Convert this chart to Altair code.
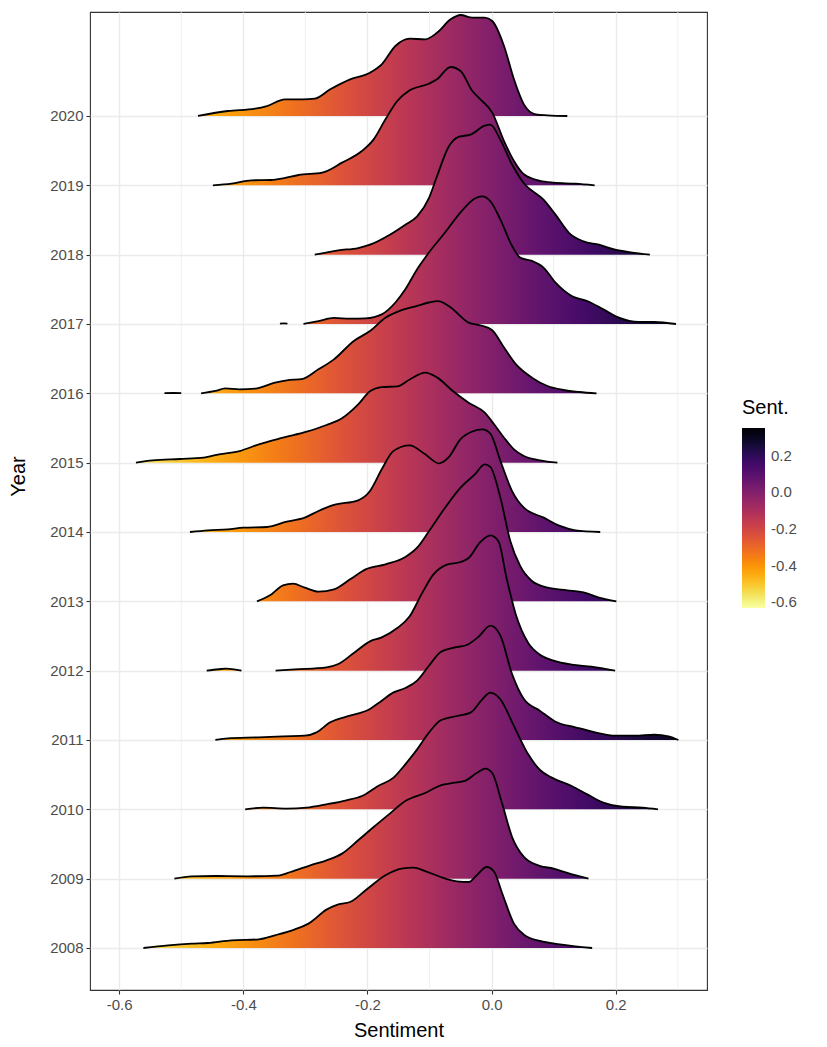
import altair as alt
import pandas as pd

# ---------------- data ----------------
years = [2008, 2009, 2010, 2011, 2012, 2013, 2014, 2015, 2016, 2017, 2018, 2019, 2020]

x2020 = [-0.473, -0.425, -0.381, -0.362, -0.333, -0.304, -0.285, -0.260, -0.228, -0.196, -0.177, -0.155, -0.132, -0.107, -0.088, -0.066, -0.050, -0.031, -0.011, 0.001, 0.020, 0.036, 0.052, 0.071, 0.090, 0.122]
d2020 = [0.0, 0.072, 0.106, 0.144, 0.240, 0.240, 0.250, 0.385, 0.529, 0.625, 0.745, 1.010, 1.115, 1.106, 1.200, 1.394, 1.457, 1.418, 1.418, 1.370, 1.010, 0.529, 0.168, 0.024, 0.010, 0.0]

x2019 = [-0.449, -0.419, -0.387, -0.355, -0.336, -0.311, -0.273, -0.241, -0.209, -0.190, -0.171, -0.152, -0.132, -0.101, -0.088, -0.066, -0.050, -0.031, -0.018, 0.001, 0.020, 0.036, 0.052, 0.078, 0.100, 0.135, 0.166]
d2019 = [0.0, 0.024, 0.072, 0.077, 0.100, 0.149, 0.183, 0.327, 0.495, 0.663, 0.952, 1.216, 1.370, 1.466, 1.529, 1.707, 1.649, 1.360, 1.240, 1.048, 0.639, 0.351, 0.159, 0.063, 0.038, 0.024, 0.0]

x2018 = [-0.285, -0.247, -0.215, -0.196, -0.164, -0.139, -0.120, -0.101, -0.088, -0.069, -0.053, -0.034, -0.011, -0.002, 0.014, 0.033, 0.052, 0.084, 0.103, 0.125, 0.148, 0.173, 0.199, 0.224, 0.255]
d2018 = [0.0, 0.063, 0.096, 0.144, 0.288, 0.433, 0.553, 0.817, 1.130, 1.560, 1.700, 1.730, 1.860, 1.875, 1.660, 1.300, 1.030, 0.790, 0.577, 0.312, 0.192, 0.144, 0.072, 0.034, 0.0]

x2017 = [-0.303, -0.279, -0.254, -0.228, -0.203, -0.177, -0.155, -0.139, -0.120, -0.101, -0.075, -0.050, -0.027, -0.015, -0.002, 0.014, 0.033, 0.046, 0.065, 0.084, 0.103, 0.129, 0.154, 0.180, 0.205, 0.237, 0.262, 0.297]
d2017 = [0.0, 0.043, 0.087, 0.077, 0.082, 0.139, 0.310, 0.500, 0.790, 1.030, 1.320, 1.610, 1.810, 1.840, 1.770, 1.510, 1.125, 0.957, 0.910, 0.810, 0.596, 0.404, 0.332, 0.212, 0.091, 0.029, 0.029, 0.0]
x2017_b = [-0.341, -0.335, -0.329]
d2017_b = [0.004, 0.008, 0.004]

x2016 = [-0.468, -0.445, -0.429, -0.406, -0.381, -0.349, -0.330, -0.304, -0.279, -0.254, -0.222, -0.196, -0.171, -0.145, -0.120, -0.101, -0.086, -0.069, -0.037, -0.018, 0.001, 0.020, 0.039, 0.065, 0.090, 0.116, 0.141, 0.169]
d2016 = [0.0, 0.034, 0.072, 0.058, 0.067, 0.154, 0.188, 0.210, 0.346, 0.490, 0.755, 0.899, 1.090, 1.200, 1.260, 1.310, 1.330, 1.260, 1.020, 0.980, 0.910, 0.660, 0.420, 0.226, 0.106, 0.048, 0.019, 0.0]
x2016_b = [-0.527, -0.513, -0.500]
d2016_b = [0.003, 0.005, 0.003]

x2015 = [-0.573, -0.546, -0.502, -0.464, -0.439, -0.406, -0.375, -0.336, -0.298, -0.266, -0.241, -0.215, -0.196, -0.177, -0.152, -0.132, -0.107, -0.088, -0.062, -0.037, -0.011, 0.004, 0.020, 0.036, 0.052, 0.078, 0.106]
d2015 = [0.0, 0.034, 0.053, 0.072, 0.120, 0.168, 0.264, 0.360, 0.447, 0.543, 0.640, 0.840, 1.030, 1.090, 1.100, 1.200, 1.300, 1.230, 1.030, 0.865, 0.720, 0.553, 0.360, 0.192, 0.096, 0.034, 0.0]

x2014 = [-0.486, -0.457, -0.425, -0.400, -0.362, -0.330, -0.301, -0.279, -0.254, -0.215, -0.196, -0.177, -0.158, -0.132, -0.107, -0.085, -0.069, -0.050, -0.031, -0.015, -0.002, 0.014, 0.033, 0.052, 0.084, 0.110, 0.135, 0.175]
d2014 = [0.0, 0.024, 0.038, 0.062, 0.072, 0.149, 0.207, 0.303, 0.390, 0.457, 0.591, 0.904, 1.170, 1.250, 1.120, 0.990, 1.080, 1.340, 1.450, 1.480, 1.420, 1.030, 0.590, 0.350, 0.207, 0.087, 0.024, 0.0]

x2013 = [-0.378, -0.355, -0.336, -0.320, -0.301, -0.279, -0.254, -0.228, -0.203, -0.171, -0.139, -0.120, -0.101, -0.075, -0.050, -0.027, -0.011, -0.002, 0.014, 0.030, 0.046, 0.065, 0.090, 0.122, 0.148, 0.173, 0.201]
d2013 = [0.0, 0.100, 0.230, 0.255, 0.197, 0.140, 0.173, 0.317, 0.460, 0.534, 0.640, 0.774, 1.010, 1.350, 1.640, 1.830, 1.976, 1.940, 1.500, 0.875, 0.510, 0.293, 0.197, 0.159, 0.130, 0.053, 0.0]

x2012 = [-0.348, -0.317, -0.266, -0.247, -0.222, -0.196, -0.177, -0.152, -0.132, -0.113, -0.094, -0.072, -0.050, -0.037, -0.018, -0.002, 0.011, 0.024, 0.039, 0.059, 0.078, 0.100, 0.129, 0.161, 0.199]
d2012 = [0.0, 0.019, 0.048, 0.096, 0.255, 0.423, 0.480, 0.615, 0.784, 1.100, 1.385, 1.530, 1.567, 1.625, 1.856, 1.950, 1.865, 1.340, 0.810, 0.400, 0.230, 0.144, 0.087, 0.058, 0.0]
x2012_b = [-0.459, -0.440, -0.428, -0.415, -0.403]
d2012_b = [0.0, 0.020, 0.030, 0.020, 0.0]

x2011 = [-0.445, -0.425, -0.375, -0.336, -0.301, -0.282, -0.260, -0.234, -0.196, -0.177, -0.158, -0.139, -0.120, -0.101, -0.082, -0.062, -0.040, -0.021, -0.002, 0.014, 0.033, 0.052, 0.078, 0.103, 0.135, 0.167, 0.199, 0.231, 0.262, 0.285, 0.301]
d2011 = [0.0, 0.024, 0.038, 0.053, 0.062, 0.110, 0.255, 0.337, 0.447, 0.567, 0.687, 0.750, 0.856, 1.070, 1.270, 1.330, 1.370, 1.490, 1.650, 1.510, 0.950, 0.590, 0.420, 0.264, 0.183, 0.110, 0.062, 0.062, 0.077, 0.053, 0.0]

x2010 = [-0.397, -0.368, -0.330, -0.298, -0.266, -0.234, -0.209, -0.183, -0.158, -0.139, -0.120, -0.101, -0.082, -0.056, -0.034, -0.015, -0.002, 0.014, 0.036, 0.059, 0.078, 0.097, 0.129, 0.154, 0.180, 0.211, 0.243, 0.268]
d2010 = [0.0, 0.024, 0.010, 0.024, 0.072, 0.130, 0.192, 0.337, 0.457, 0.649, 0.865, 1.106, 1.284, 1.346, 1.394, 1.587, 1.683, 1.587, 1.200, 0.793, 0.567, 0.457, 0.337, 0.216, 0.096, 0.038, 0.024, 0.0]

x2009 = [-0.511, -0.483, -0.445, -0.394, -0.346, -0.324, -0.292, -0.266, -0.241, -0.215, -0.190, -0.164, -0.139, -0.107, -0.082, -0.062, -0.043, -0.024, -0.010, 0.001, 0.017, 0.033, 0.052, 0.075, 0.100, 0.122, 0.156]
d2009 = [0.0, 0.034, 0.038, 0.034, 0.043, 0.096, 0.192, 0.264, 0.361, 0.553, 0.745, 0.938, 1.120, 1.236, 1.346, 1.380, 1.410, 1.524, 1.587, 1.524, 1.082, 0.600, 0.313, 0.192, 0.144, 0.082, 0.0]

x2008 = [-0.561, -0.521, -0.483, -0.457, -0.419, -0.375, -0.349, -0.317, -0.295, -0.266, -0.247, -0.228, -0.203, -0.171, -0.145, -0.126, -0.107, -0.082, -0.056, -0.037, -0.024, -0.008, 0.004, 0.017, 0.036, 0.052, 0.078, 0.110, 0.162]
d2008 = [0.0, 0.038, 0.0625, 0.072, 0.111, 0.125, 0.183, 0.269, 0.351, 0.553, 0.630, 0.663, 0.832, 1.048, 1.144, 1.159, 1.110, 1.024, 0.962, 0.952, 1.048, 1.168, 1.100, 0.790, 0.351, 0.192, 0.101, 0.053, 0.0]

segments = {
    2020: [(x2020, d2020)],
    2019: [(x2019, d2019)],
    2018: [(x2018, d2018)],
    2017: [(x2017, d2017), (x2017_b, d2017_b)],
    2016: [(x2016, d2016), (x2016_b, d2016_b)],
    2015: [(x2015, d2015)],
    2014: [(x2014, d2014)],
    2013: [(x2013, d2013)],
    2012: [(x2012, d2012), (x2012_b, d2012_b)],
    2011: [(x2011, d2011)],
    2010: [(x2010, d2010)],
    2009: [(x2009, d2009)],
    2008: [(x2008, d2008)],
}

x_major = [-0.6, -0.4, -0.2, 0.0, 0.2]
x_minor = [-0.5, -0.3, -0.1, 0.1, 0.3]
legend_ticks = [-0.6, -0.4, -0.2, 0.0, 0.2]

# ---------------- styling ----------------
X_DOMAIN = [-0.647, 0.347]
Y_DOMAIN = [2007.394, 2021.5]
C_DOMAIN = [-0.63, 0.35]
FONT = "Liberation Sans"
INFERNO = ["#000004", "#160B39", "#420A68", "#6A176E", "#932667", "#BC3754",
           "#DD513A", "#F37819", "#FCA50A", "#F6D746", "#FCFFA4"]


def _rgb(h):
    h = h.lstrip("#")
    return [int(h[i:i + 2], 16) for i in (0, 2, 4)]


def inferno(t):
    t = min(max(t, 0.0), 1.0) * 10
    i = min(int(t), 9)
    f = t - i
    a, b = _rgb(INFERNO[i]), _rgb(INFERNO[i + 1])
    return "#%02x%02x%02x" % tuple(round(a[k] + (b[k] - a[k]) * f) for k in range(3))


def fill_for(xs):
    lo, hi = min(xs), max(xs)
    n = 12
    stops = []
    for k in range(n + 1):
        off = k / n
        xv = lo + (hi - lo) * off
        t = (C_DOMAIN[1] - xv) / (C_DOMAIN[1] - C_DOMAIN[0])
        stops.append(alt.GradientStop(color=inferno(t), offset=off))
    return alt.Gradient(gradient="linear", stops=stops, x1=0, x2=1, y1=0, y2=0)


label_expr = "datum.value < 0 ? '-' + format(-datum.value, '.1f') : format(datum.value, '.1f')"

xscale = alt.Scale(domain=X_DOMAIN, nice=False, zero=False)
yscale = alt.Scale(domain=Y_DOMAIN, nice=False, zero=False)
xaxis = alt.Axis(values=x_major, labelExpr=label_expr, title="Sentiment",
                 titleY=40, titleBaseline="middle")
yaxis = alt.Axis(values=years, format="d", title="Year",
                 titleX=-72, titleY=464, titleBaseline="middle", titleAngle=270)

layers = []
minor_df = pd.DataFrame({"v": x_minor})
layers.append(
    alt.Chart(minor_df).mark_rule(color="#EBEBEB", strokeWidth=0.8).encode(
        x=alt.X("v:Q", scale=xscale, axis=xaxis)
    )
)

for yr in sorted(years, reverse=True):
    for xs, ds in segments[yr]:
        df = pd.DataFrame({"x": xs, "top": [yr + d for d in ds], "base": [yr] * len(xs)})
        enc_x = alt.X("x:Q", scale=xscale, axis=xaxis)
        enc_y = alt.Y("top:Q", scale=yscale, axis=yaxis)
        layers.append(
            alt.Chart(df).mark_area(interpolate="monotone", color=fill_for(xs)).encode(
                x=enc_x, y=enc_y, y2="base:Q"
            )
        )
        layers.append(
            alt.Chart(df).mark_line(interpolate="monotone", color="black", strokeWidth=1.8).encode(
                x=enc_x, y=enc_y
            )
        )

legend_df = pd.DataFrame({"x": x2015, "top": [2015 + d for d in d2015]})
layers.append(
    alt.Chart(legend_df).mark_point(opacity=0).encode(
        x=alt.X("x:Q", scale=xscale, axis=xaxis),
        y=alt.Y("top:Q", scale=yscale, axis=yaxis),
        color=alt.Color(
            "x:Q",
            scale=alt.Scale(scheme="inferno", reverse=True, domain=C_DOMAIN, nice=False, zero=False),
            legend=alt.Legend(
                title="Sent.", values=legend_ticks, labelExpr=label_expr,
                orient="none", legendX=652, legendY=386,
                gradientLength=180, gradientThickness=23,
                titleFontSize=20, labelFontSize=15, titleFont=FONT, labelFont=FONT,
                titleFontWeight="normal", titleColor="black", labelColor="#4D4D4D",
                titlePadding=10, labelOffset=6, gradientStrokeWidth=0,
            ),
        ),
    )
)

chart = alt.layer(*layers).properties(
    width=617, height=978,
    autosize=alt.AutoSizeParams(type="none"),
    padding={"left": 82, "top": 4, "right": 112, "bottom": 52},
).configure_view(
    stroke="#333333", strokeWidth=1.1
).configure_axis(
    grid=True, gridColor="#EBEBEB", gridWidth=1.4,
    domain=False, tickColor="#333333", tickSize=4, tickWidth=1.1,
    labelColor="#4D4D4D", labelFontSize=15, labelFont=FONT, labelPadding=3,
    titleColor="black", titleFontSize=20, titleFont=FONT, titleFontWeight="normal",
)

chart.save("out.html", embed_options={"renderer": "svg", "actions": False})
